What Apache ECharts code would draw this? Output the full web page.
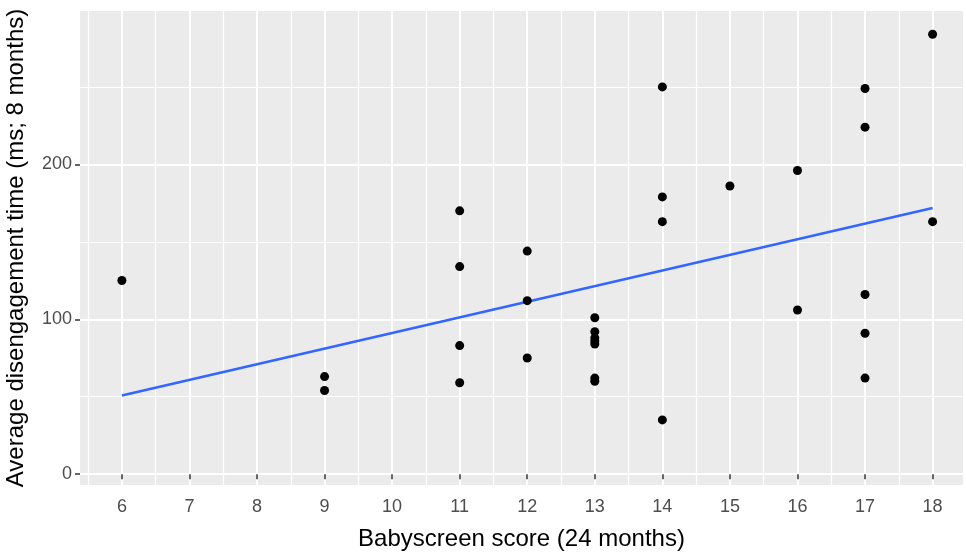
<!DOCTYPE html>
<html>
<head>
<meta charset="utf-8">
<title>Babyscreen vs disengagement</title>
<script src="https://cdn.jsdelivr.net/npm/echarts@6/dist/echarts.min.js"></script>
<style>
  html, body { margin: 0; padding: 0; background: #fff; }
  #chart { width: 966px; height: 552px; }
</style>
</head>
<body>
<div id="chart"></div>
<script>
// scores (24 months) and disengagement time (ms; 8 months)
const scores = [6, 9, 9, 11, 11, 11, 11, 12, 12, 12, 13, 13, 13, 13, 13, 13, 13,
  14, 14, 14, 14, 15, 16, 16, 17, 17, 17, 17, 17, 18, 18]
const times = [125, 63, 54, 170, 134, 83, 59, 144, 112, 75, 101, 92, 88, 86, 84, 62, 60,
  250, 179, 163, 35, 186, 196, 106, 249, 224, 116, 91, 62, 284, 163]

// fitted line endpoints (lm)
const fitX = [6, 18]
const fitY = [50.8, 171.8]

const xTicks = [6, 7, 8, 9, 10, 11, 12, 13, 14, 15, 16, 17, 18]
const xMinor = [5.5, 6.5, 7.5, 8.5, 9.5, 10.5, 11.5, 12.5, 13.5, 14.5, 15.5, 16.5, 17.5, 18.5]
const yTicks = [0, 100, 200]
const yMinor = [50, 150, 250]

const xMin = 5.38
const xMax = 18.45
const yMin = -7
const yMax = 299

const font = 'Liberation Sans, Arial, sans-serif'

const chart = echarts.init(document.getElementById('chart'))

const hidden = { show: false }

chart.setOption({
  animation: false,
  backgroundColor: '#fff',
  grid: {
    left: 80,
    right: 3,
    top: 11,
    bottom: 67,
    outerBoundsMode: 'none',
    show: true,
    backgroundColor: '#EBEBEB',
    borderWidth: 0
  },
  xAxis: [{
    type: 'value',
    min: xMin,
    max: xMax,
    name: 'Babyscreen score (24 months)',
    nameLocation: 'middle',
    nameGap: 42,
    nameTextStyle: { color: '#000', fontSize: 24, fontFamily: font },
    axisLine: hidden,
    axisTick: {
      show: true,
      length: 5,
      customValues: xTicks,
      lineStyle: { color: '#333', width: 1.5 }
    },
    axisLabel: {
      customValues: xTicks,
      color: '#4D4D4D',
      fontSize: 18,
      fontFamily: font,
      margin: 13
    },
    splitLine: { show: true, lineStyle: { color: '#fff', width: 2 } }
  }, {
    type: 'value',
    min: xMin,
    max: xMax,
    axisLine: hidden,
    axisTick: { show: false, customValues: xMinor },
    axisLabel: { show: false, customValues: xMinor },
    splitLine: { show: true, lineStyle: { color: '#fff', width: 1.2 } }
  }],
  yAxis: [{
    type: 'value',
    min: yMin,
    max: yMax,
    name: 'Average disengagement time (ms; 8 months)',
    nameLocation: 'middle',
    nameGap: 52,
    nameTextStyle: { color: '#000', fontSize: 24, fontFamily: font },
    axisLine: hidden,
    axisTick: {
      show: true,
      length: 5,
      customValues: yTicks,
      lineStyle: { color: '#333', width: 1.5 }
    },
    axisLabel: {
      customValues: yTicks,
      color: '#4D4D4D',
      fontSize: 18,
      fontFamily: font,
      margin: 8
    },
    splitLine: { show: true, lineStyle: { color: '#fff', width: 2 } }
  }, {
    type: 'value',
    min: yMin,
    max: yMax,
    axisLine: hidden,
    axisTick: { show: false, customValues: yMinor },
    axisLabel: { show: false, customValues: yMinor },
    splitLine: { show: true, lineStyle: { color: '#fff', width: 1.2 } }
  }],
  series: [{
    name: 'fit',
    type: 'line',
    data: fitX.map((x, i) => [x, fitY[i]]),
    symbol: 'none',
    lineStyle: { color: '#3366FF', width: 2.5 },
    z: 2
  }, {
    name: 'points',
    type: 'scatter',
    data: scores.map((x, i) => [x, times[i]]),
    symbolSize: 9,
    itemStyle: { color: '#000', opacity: 1 },
    z: 3
  }]
})
</script>
</body>
</html>
